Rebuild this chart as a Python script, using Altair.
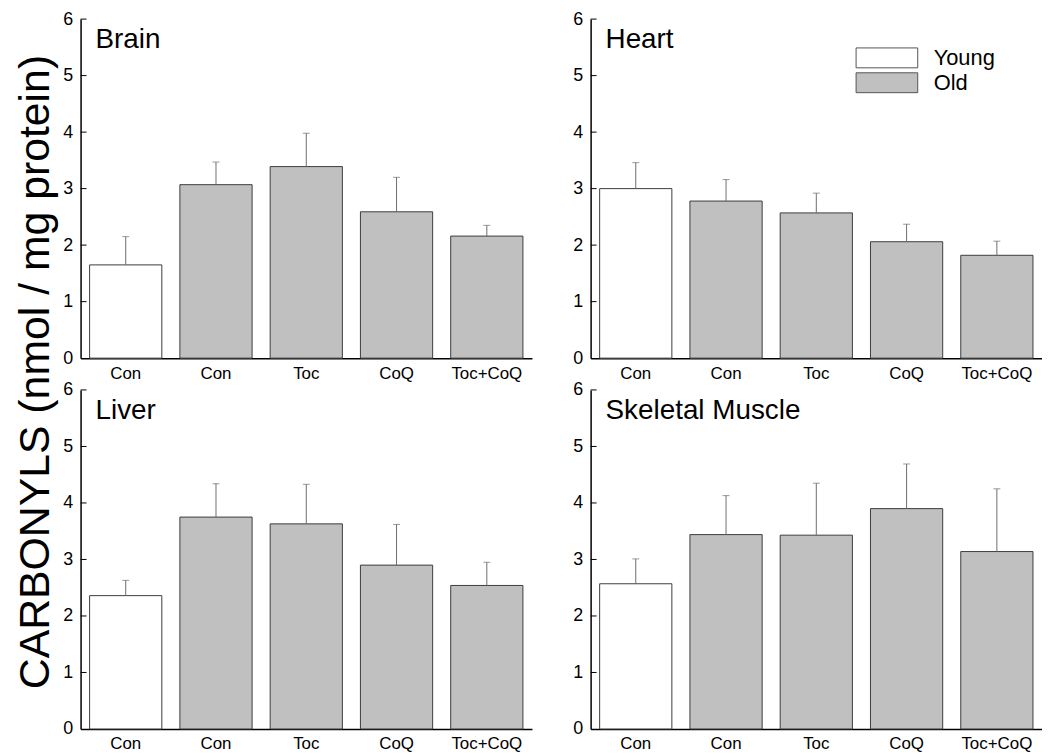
import altair as alt
import pandas as pd

# ---- data ----
tissues = ["Brain", "Heart", "Liver", "Skeletal Muscle"]
group_keys = ["YCon", "OCon", "OToc", "OCoQ", "OTocCoQ"]
group_labels = ["Con", "Con", "Toc", "CoQ", "Toc+CoQ"]
group_ages = ["Young", "Old", "Old", "Old", "Old"]

brain_mean = [1.65, 3.07, 3.39, 2.59, 2.16]
brain_sem = [0.50, 0.40, 0.59, 0.61, 0.19]
heart_mean = [3.00, 2.78, 2.57, 2.06, 1.82]
heart_sem = [0.46, 0.38, 0.35, 0.31, 0.25]
liver_mean = [2.36, 3.75, 3.63, 2.90, 2.54]
liver_sem = [0.27, 0.59, 0.70, 0.72, 0.41]
muscle_mean = [2.57, 3.44, 3.43, 3.90, 3.14]
muscle_sem = [0.44, 0.69, 0.92, 0.79, 1.11]

y_ticks = [0, 1, 2, 3, 4, 5, 6]
legend_domain = ["Young", "Old"]
legend_colors = ["white", "#c0c0c0"]
y_title = "CARBONYLS (nmol / mg protein)"

FONT = "Liberation Sans"
W, H = 454, 341

label_expr = "{" + ",".join(f"'{k}':'{l}'" for k, l in zip(group_keys, group_labels)) + "}[datum.value]"

legend = alt.Legend(title=None, orient="none", legendX=873, legendY=28,
                    symbolType="M-3.1,-1H3.1V1H-3.1Z", symbolSize=400,
                    symbolStrokeColor="#555555", symbolStrokeWidth=1,
                    symbolOpacity=1, labelFontSize=22, labelFont=FONT,
                    labelColor="black", labelOffset=36, rowPadding=1,
                    labelBaseline="middle")


def panel(name, means, sems):
    df = pd.DataFrame({
        "key": group_keys,
        "age": group_ages,
        "mean": means,
        "upper": [m + s for m, s in zip(means, sems)],
    })
    base = alt.Chart(df)
    x = alt.X("key:N", sort=group_keys,
              scale=alt.Scale(paddingInner=0.2, paddingOuter=0.1),
              axis=alt.Axis(title=None, labelExpr=label_expr, labelAngle=0,
                            ticks=False, labelFontSize=17, labelPadding=7,
                            domainColor="black", domainWidth=1.5,
                            labelColor="black", labelFont=FONT))
    yscale = alt.Scale(domain=[0, 6], nice=False)
    y = alt.Y("mean:Q", scale=yscale,
              axis=alt.Axis(title=None, values=y_ticks, format="d", ticks=False, grid=False,
                            labelFontSize=18, labelPadding=8,
                            domainColor="black", domainWidth=1.5,
                            labelColor="black", labelFont=FONT))
    bars = base.mark_bar(stroke="#3c3c3c", strokeWidth=1, opacity=1).encode(
        x=x, y=y,
        fill=alt.Fill("age:N", scale=alt.Scale(domain=legend_domain, range=legend_colors),
                      legend=legend),
    )
    err = base.mark_rule(color="#6e6e6e", strokeWidth=1).encode(
        x=alt.X("key:N", sort=group_keys), y=alt.Y("mean:Q", scale=yscale), y2="upper:Q")
    cap = base.mark_tick(color="#6e6e6e", orient="horizontal", size=7, thickness=1).encode(
        x=alt.X("key:N", sort=group_keys), y=alt.Y("upper:Q", scale=yscale))
    tick_df = pd.DataFrame({"v": y_ticks[1:]})
    inner_ticks = alt.Chart(tick_df).mark_rule(color="black", strokeWidth=1).encode(
        y=alt.Y("v:Q", scale=yscale), x=alt.value(0), x2=alt.value(6))
    title = alt.Chart(pd.DataFrame({"t": [name]})).mark_text(
        align="left", baseline="alphabetic", fontSize=28, font=FONT, color="black"
    ).encode(text="t:N", x=alt.value(15), y=alt.value(29))
    return alt.layer(bars, err, cap, inner_ticks, title).properties(width=W, height=H)


p1 = panel(tissues[0], brain_mean, brain_sem)
p2 = panel(tissues[1], heart_mean, heart_sem)
p3 = panel(tissues[2], liver_mean, liver_sem)
p4 = panel(tissues[3], muscle_mean, muscle_sem)

row1 = alt.hconcat(p1, p2, spacing=40)
row2 = alt.hconcat(p3, p4, spacing=40)
grid = alt.vconcat(row1, row2, spacing=0)

title_chart = alt.Chart(pd.DataFrame({"t": [y_title]})).mark_text(
    angle=270, align="center", baseline="middle", fontSize=43, font=FONT, color="black"
).encode(text="t:N", x=alt.value(28), y=alt.value(355)).properties(width=51, height=715)

chart = alt.hconcat(title_chart, grid, spacing=3).properties(
    padding={"left": 0, "top": 0, "right": 0, "bottom": 0},
).configure(font=FONT, view=alt.ViewConfig(stroke="transparent", strokeWidth=0))

chart.save("out.html", embed_options={"renderer": "svg", "actions": False})
